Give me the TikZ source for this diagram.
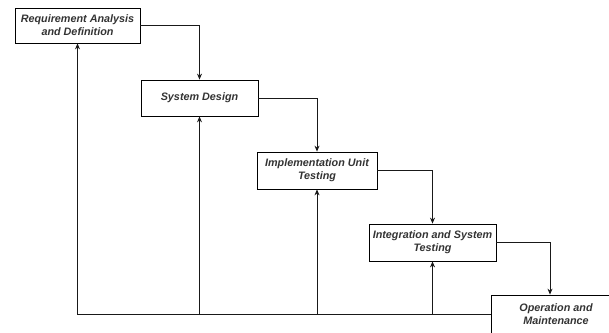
\documentclass[tikz,border=0pt]{standalone}
\usepackage{fontspec}
\setmainfont{Liberation Sans}
\usepackage{xcolor}
\usepackage{tikz}
\usetikzlibrary{arrows.meta}

\begin{document}
\begin{tikzpicture}[x=1pt,y=-1pt,
		stage/.style={shape=rectangle,draw=black,line width=0.8pt,align=center,inner sep=0pt,
			font=\fontsize{10.8}{13}\selectfont\bfseries\itshape,text=black!80},
		flow/.style={-{Stealth[length=6pt,width=5pt]},line width=0.8pt,black!90}]
			\useasboundingbox (0,0) rectangle (609,332);
			\node[stage, minimum width=125pt, minimum height=35pt] (req) at (77.5,25.5) {Requirement Analysis\\and Definition};
			\node[stage, minimum width=117pt, minimum height=36pt] (sys) at (199.5,98) {System Design};
			\node[stage, minimum width=120pt, minimum height=37pt] (impl) at (317,170.5) {Implementation Unit\\Testing};
			\node[stage, minimum width=127pt, minimum height=37pt] (integ) at (432.5,242.5) {Integration and System\\Testing};
			\node[stage, minimum width=130pt, minimum height=38pt] (oper) at (556,314) {Operation and\\Maintenance};

			%% lines
			\draw[flow] (req.east) -| (sys.north);
			\draw[flow] (sys.east) -| (impl.north);
			\draw[flow] (impl.east) -| (integ.north);
			\draw[flow] (integ.east) -| ([xshift=-6pt]oper.north);

			%% feedback
			\draw[flow] (oper.west) -| (req.south);
			\draw[flow] (oper.west -| sys.south) -- (sys.south);
			\draw[flow] (oper.west -| impl.south) -- (impl.south);
			\draw[flow] (oper.west -| integ.south) -- (integ.south);
		\end{tikzpicture}
\end{document}
